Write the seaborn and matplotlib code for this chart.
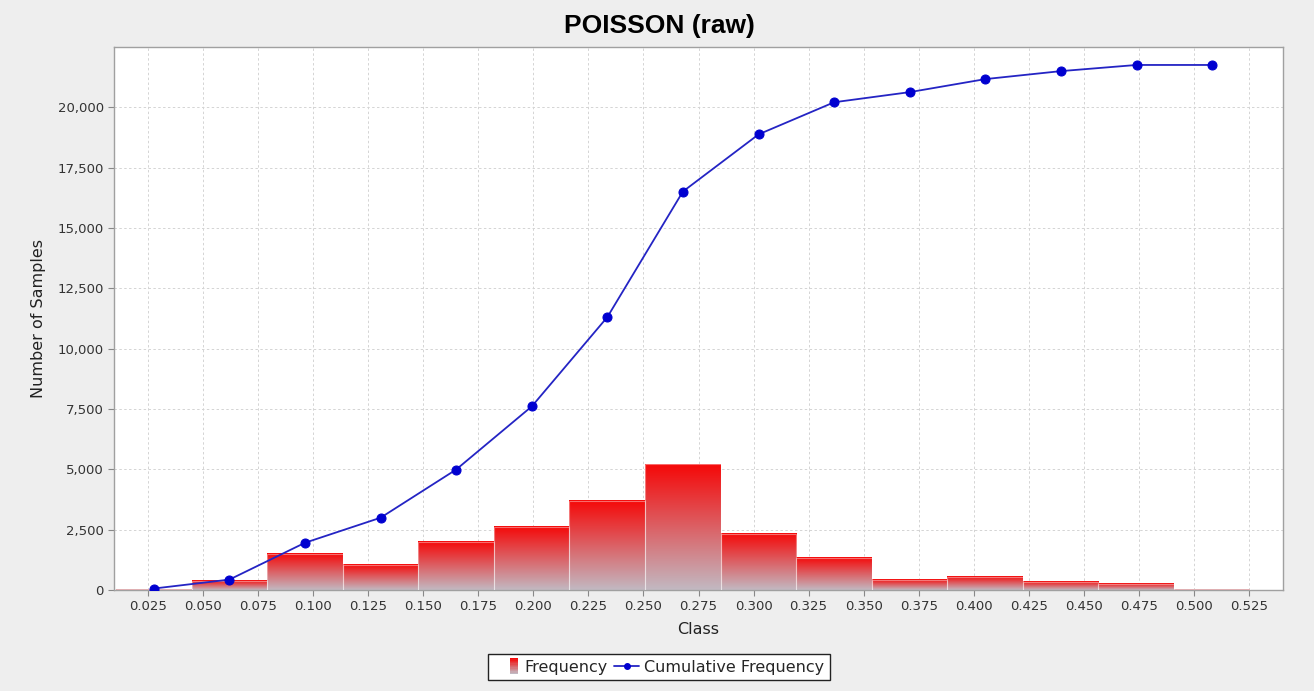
import numpy as np
import pandas as pd
import matplotlib
matplotlib.use("Agg")
import matplotlib.pyplot as plt
import seaborn as sns
from matplotlib.lines import Line2D
from matplotlib.patches import Rectangle
from matplotlib.legend_handler import HandlerBase
from matplotlib.colors import LinearSegmentedColormap

# Dane
class_centers = [0.0276, 0.0619, 0.0962, 0.1306, 0.1649, 0.1993, 0.2336, 0.2679,
                 0.3023, 0.3366, 0.3710, 0.4053, 0.4396, 0.4740, 0.5083]
frequency = [20, 375, 1500, 1040, 2000, 2620, 3700, 5200,
             2330, 1330, 416, 540, 333, 250, 40]
cumulative = [60, 430, 1955, 2995, 4990, 7610, 11310, 16510,
              18880, 20210, 20630, 21170, 21500, 21755, 21755]
x_ticks = [0.025, 0.050, 0.075, 0.100, 0.125, 0.150, 0.175, 0.200, 0.225, 0.250, 0.275,
           0.300, 0.325, 0.350, 0.375, 0.400, 0.425, 0.450, 0.475, 0.500, 0.525]
y_ticks = [0, 2500, 5000, 7500, 10000, 12500, 15000, 17500, 20000]

df = pd.DataFrame({"klasa": class_centers, "freq": frequency, "cum": cumulative})

sns.set_style("white")
plt.rcParams['font.family'] = ['DejaVu Sans']

fig = plt.figure(figsize=(13.14, 6.91), dpi=100, facecolor='#eeeeee')
ax = fig.add_axes([0.0868, 0.1462, 0.8896, 0.7858])
ax.set_facecolor('white')

# słupki (histogram ważony częstościami)
sns.histplot(data=df, x="klasa", weights="freq", bins=15, binrange=(0.0104, 0.5253),
             ax=ax, color='red', alpha=1, linewidth=0, zorder=2)

# gradient czerwony -> szary w każdym słupku
grad_cmap = LinearSegmentedColormap.from_list('rg', ['#f50808', '#c2b9c2'])
grad = np.linspace(0, 1, 256).reshape(-1, 1)
for p in list(ax.patches):
    x0, w, h = p.get_x(), p.get_width(), p.get_height()
    if h <= 0:
        continue
    ax.imshow(grad, cmap=grad_cmap, aspect='auto', origin='upper',
              extent=[x0, x0 + w, 0, h], zorder=2, interpolation='bilinear')
    p.set_facecolor('none')
    p.set_edgecolor((1, 1, 1, 0.4))
    p.set_linewidth(0.8)
    p.set_zorder(3)

# krzywa skumulowana
sns.lineplot(data=df, x="klasa", y="cum", ax=ax, color='#2424c4', linewidth=1.3,
             marker='o', markersize=6.5, markerfacecolor='#0000d0',
             markeredgecolor='#0000d0', zorder=4)

ax.set_xlim(0.0095, 0.5405)
ax.set_ylim(0, 22500)
ax.set_xticks(x_ticks)
ax.set_xticklabels([f"{t:.3f}" for t in x_ticks])
ax.set_yticks(y_ticks)
ax.set_yticklabels([f"{t:,}" for t in y_ticks])
ax.tick_params(axis='both', labelsize=9.5, labelcolor='#333333', color='#888888',
               length=4, width=0.8, direction='out', bottom=True, left=True)
ax.grid(True, color='#d4d4d4', linestyle=(0, (2.5, 2.5)), linewidth=0.7, zorder=0)
ax.set_axisbelow(True)
for s in ax.spines.values():
    s.set_color('#a0a0a0')
    s.set_linewidth(1)

ax.set_xlabel('Class', fontsize=11.5, color='#222222', labelpad=6)
ax.set_ylabel('Number of Samples', fontsize=11.5, color='#222222', labelpad=8)
fig.text(0.5015, 0.963, 'POISSON (raw)', ha='center', va='center', color='black',
         fontsize=19, fontweight='bold', family='Liberation Sans')


class GradientHandler(HandlerBase):
    def create_artists(self, legend, orig_handle, xdescent, ydescent,
                       width, height, fontsize, trans):
        n = 12
        w = 0.3 * width
        hh = height * 1.45
        x0 = -xdescent + width - w - 1
        y0 = -ydescent + height / 2 - hh / 2
        arts = []
        for i in range(n):
            c = grad_cmap(i / (n - 1))
            arts.append(Rectangle((x0, y0 + hh - (i + 1) * hh / n), w, hh / n,
                                  facecolor=c, edgecolor='none', transform=trans))
        return arts


h_freq = Rectangle((0, 0), 1, 1)
h_cum = Line2D([0], [0], color='#2424c4', linewidth=1.3, marker='o', markersize=4,
               markerfacecolor='#0000d0', markeredgecolor='#0000d0')
leg = fig.legend([h_freq, h_cum], ['Frequency', 'Cumulative Frequency'],
                 loc='lower center', bbox_to_anchor=(0.5015, 0.004), ncol=2,
                 fontsize=11.5, frameon=True, fancybox=False, framealpha=1,
                 edgecolor='#222222', facecolor='white', handlelength=1.6,
                 handletextpad=0.3, columnspacing=0.4, borderpad=0.35,
                 handler_map={Rectangle: GradientHandler()})
leg.get_frame().set_linewidth(1)

fig.savefig('out.png', dpi=100, facecolor=fig.get_facecolor())
